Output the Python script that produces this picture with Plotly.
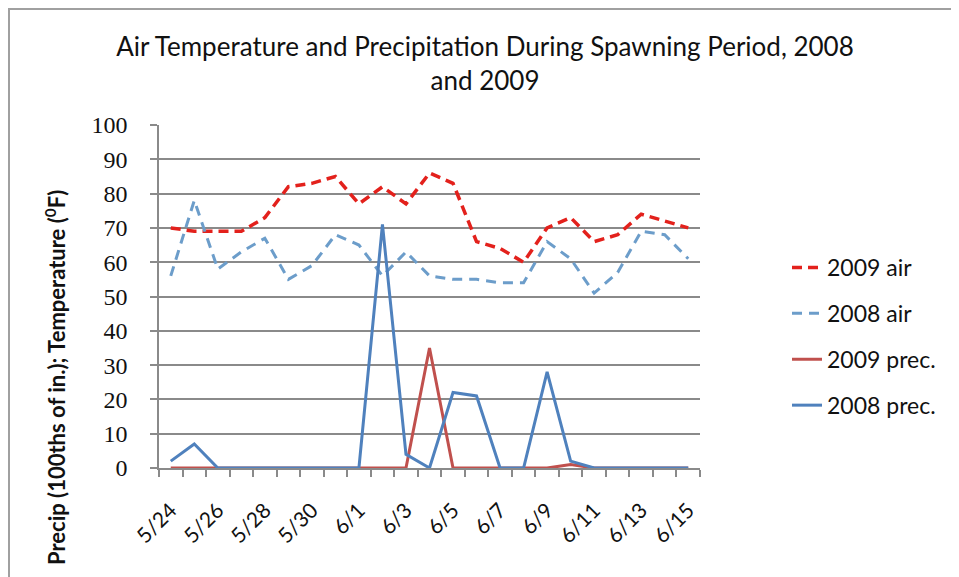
import plotly.graph_objects as go

dates = ["5/24", "5/25", "5/26", "5/27", "5/28", "5/29", "5/30", "5/31",
         "6/1", "6/2", "6/3", "6/4", "6/5", "6/6", "6/7", "6/8", "6/9",
         "6/10", "6/11", "6/12", "6/13", "6/14", "6/15"]
air_2009 = [70, 69, 69, 69, 73, 82, 83, 85, 77, 82, 77, 86, 83, 66, 64, 60,
            70, 73, 66, 68, 74, 72, 70]
air_2008 = [56, 78, 58, 63, 67, 55, 59, 68, 65, 56, 63, 56, 55, 55, 54, 54,
            66, 61, 51, 57, 69, 68, 61]
prec_2009 = [0, 0, 0, 0, 0, 0, 0, 0, 0, 0, 0, 35, 0, 0, 0, 0, 0, 1, 0, 0,
             0, 0, 0]
prec_2008 = [2, 7, 0, 0, 0, 0, 0, 0, 0, 71, 4, 0, 22, 21, 0, 0, 28, 2, 0, 0,
             0, 0, 0]
tick_labels = [d if i % 2 == 0 else "" for i, d in enumerate(dates)]

W, H = 959, 577
L, R, T, B = 151, 267, 117, 117
pw, ph = W - L - R, H - T - B

FONT = "Lato"
TXT = "#111111"
GRID = "#8A8A8A"

fig = go.Figure()
fig.add_trace(go.Scatter(x=dates, y=air_2009, mode="lines", name="2009 air",
                         legendgroup="a",
                         line=dict(color="#E3211C", width=3.5, dash="10px,6px")))
fig.add_trace(go.Scatter(x=dates, y=air_2008, mode="lines", name="2008 air",
                         legendgroup="b",
                         line=dict(color="#6C9DCA", width=3, dash="10px,7px")))
fig.add_trace(go.Scatter(x=dates, y=prec_2009, mode="lines", name="2009 prec.",
                         legendgroup="c",
                         line=dict(color="#C0504D", width=3)))
fig.add_trace(go.Scatter(x=dates, y=prec_2008, mode="lines", name="2008 prec.",
                         legendgroup="d",
                         line=dict(color="#4F81BD", width=3)))

fig.update_layout(
    width=W, height=H,
    margin=dict(l=L, r=R, t=T, b=B),
    paper_bgcolor="white", plot_bgcolor="white",
    font=dict(family=FONT, color=TXT),
    title=dict(text="Air Temperature and Precipitation During Spawning Period, 2008<br>and 2009",
               x=477 / W, xanchor="center", xref="container",
               y=1 - 48 / H, yanchor="top", yref="container",
               font=dict(family=FONT, size=26, color=TXT)),
    showlegend=True,
    legend=dict(x=(779 - L) / pw, xanchor="left", y=(460 - 238) / ph, yanchor="top",
                font=dict(family=FONT, size=23, color=TXT),
                tracegroupgap=13, traceorder="grouped", bgcolor="rgba(0,0,0,0)"),
)

fig.update_xaxes(
    type="category", categoryorder="array", categoryarray=dates,
    range=[-0.5, len(dates) - 0.5], autorange=False,
    tickmode="array", tickvals=dates, ticktext=tick_labels,
    tickson="boundaries", ticks="outside", ticklen=7, tickcolor=GRID,
    tickwidth=1.5, tickangle=-45, ticklabelstandoff=20,
    tickfont=dict(family=FONT, size=21, color=TXT),
    showline=True, linecolor=GRID, linewidth=1.5,
    showgrid=False, zeroline=False,
)
fig.update_yaxes(
    range=[0, 100], tickmode="linear", tick0=0, dtick=10,
    ticks="outside", ticklen=7, tickcolor=GRID, tickwidth=1.5,
    ticklabelstandoff=18,
    tickfont=dict(family="Liberation Serif", size=24, color=TXT),
    showline=True, linecolor=GRID, linewidth=1.5,
    showgrid=True, gridcolor=GRID, gridwidth=1.5, zeroline=False,
)

fig.add_annotation(
    text="<b>Precip (100ths of in.); Temperature (<sup>0</sup>F)</b>",
    xref="paper", yref="paper", x=(47 - L) / pw, y=(460 - 370) / ph,
    xanchor="center", yanchor="middle", textangle=-90, showarrow=False,
    font=dict(family=FONT, size=22, color=TXT),
)

fig.add_shape(type="rect", xref="paper", yref="paper",
              x0=(1 - L) / pw, x1=(W + 10 - L) / pw,
              y0=-(B + 10) / ph, y1=1 + (T - 1) / ph,
              line=dict(color="#A0A0A0", width=2), layer="below")

fig.write_html("out.html")
